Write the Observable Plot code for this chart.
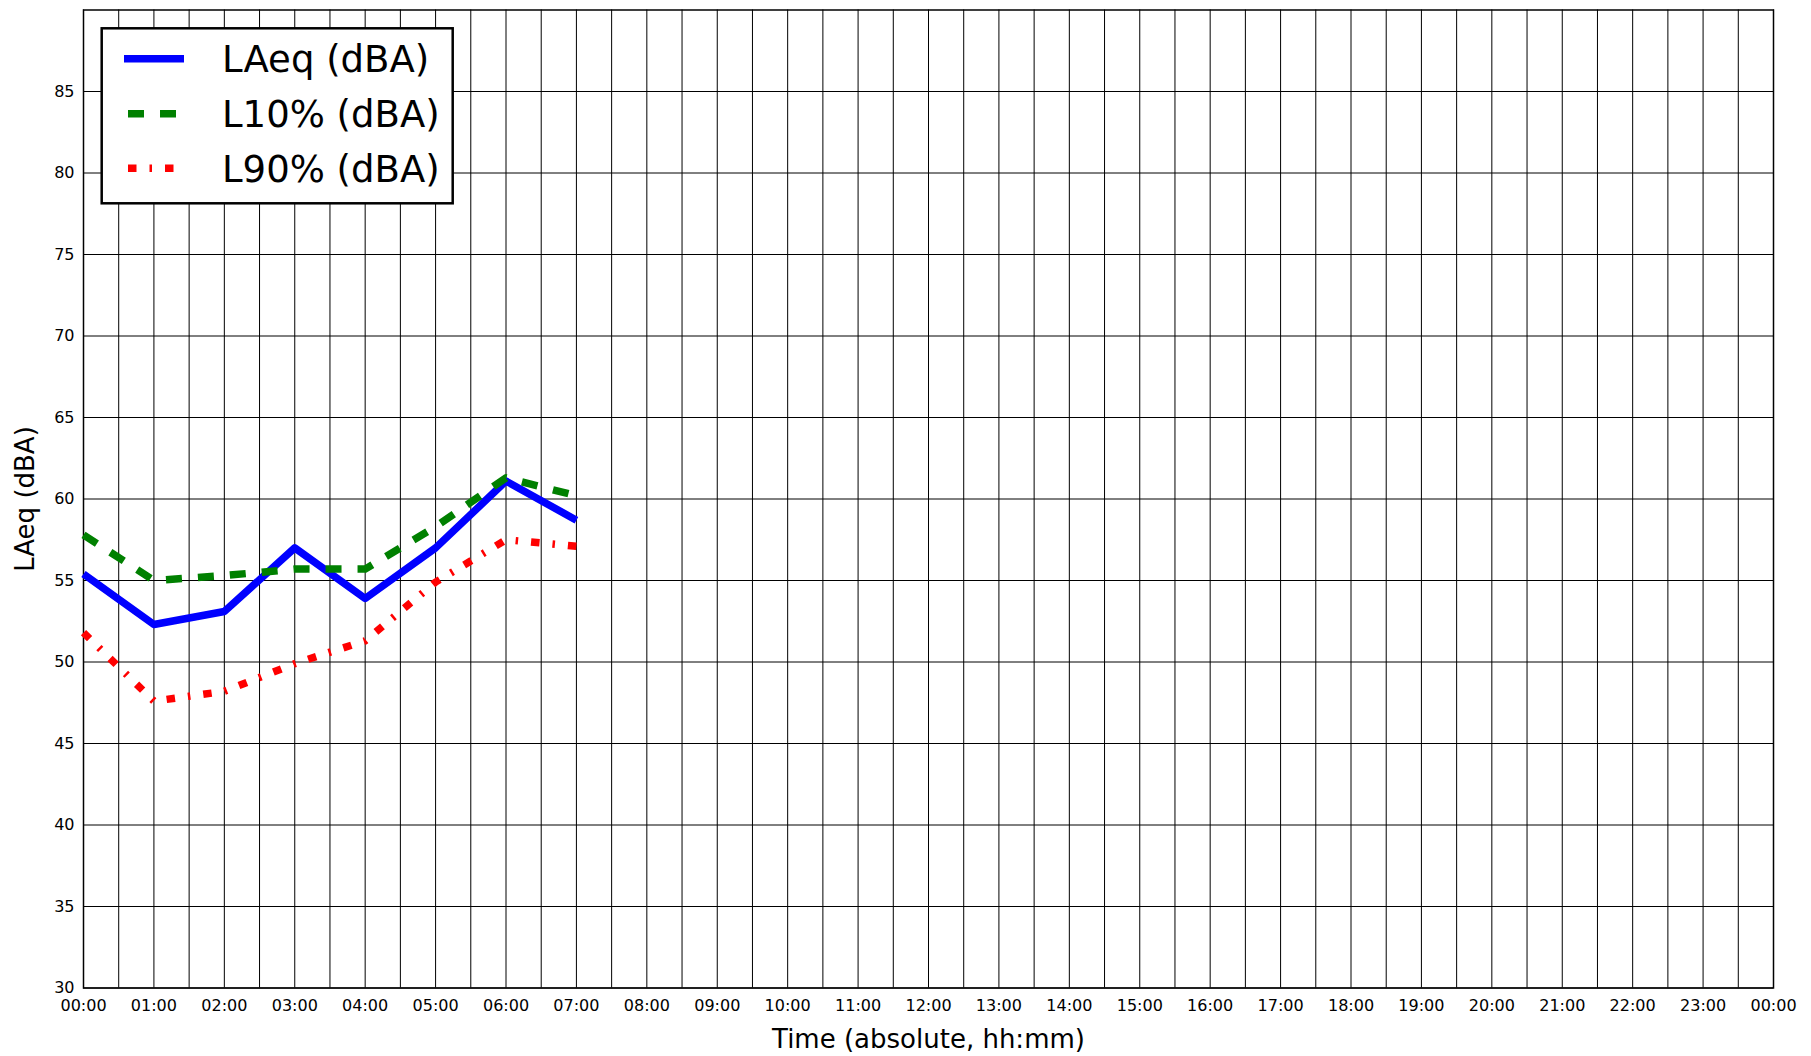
<!DOCTYPE html>
<html>
<head>
<meta charset="utf-8">
<script src="https://cdn.jsdelivr.net/npm/d3@7"></script>
<script src="https://cdn.jsdelivr.net/npm/@observablehq/plot@0.6"></script>
<style>
  html, body { margin: 0; padding: 0; background: white; overflow: hidden; }
  #wrap { position: relative; width: 1811px; height: 1056px; }
  #legend { position: absolute; left: 0; top: 0; pointer-events: none; }
</style>
</head>
<body>
<div id="wrap"></div>
<script>
// ---- data ----
const times = ["00:00", "01:00", "02:00", "03:00", "04:00", "05:00", "06:00", "07:00"];
const laeq  = [55.4, 52.3, 53.1, 57.0, 53.9, 57.0, 61.1, 58.7];
const l10   = [57.8, 55.0, 55.3, 55.7, 55.7, 58.3, 61.3, 60.2];
const l90   = [51.8, 47.6, 48.2, 49.9, 51.3, 54.9, 57.5, 57.1];
const seriesNames = ["LAeq (dBA)", "L10% (dBA)", "L90% (dBA)"];
const xTickLabels = ["00:00","01:00","02:00","03:00","04:00","05:00","06:00","07:00","08:00","09:00",
  "10:00","11:00","12:00","13:00","14:00","15:00","16:00","17:00","18:00","19:00","20:00","21:00",
  "22:00","23:00","00:00"];
const yTicks = [30, 35, 40, 45, 50, 55, 60, 65, 70, 75, 80, 85];

// ---- build table ----
const toHour = s => { const [h, m] = s.split(":").map(Number); return h + m / 60; };
const rows = times.map((t, i) => ({hour: toHour(t), laeq: laeq[i], l10: l10[i], l90: l90[i]}));
const hourTicks = xTickLabels.map((_, i) => i);
const halfHourGrid = d3.range(0, 24.01, 0.5);

const styles = [
  {key: "laeq", color: "#0000ff", dash: null},
  {key: "l10",  color: "#008000", dash: "16,16"},
  {key: "l90",  color: "#ff0000", dash: "8.5,13,2.5,13"}
];

const W = 1811, H = 1056;
const mL = 83, mR = 38, mT = 9.5, mB = 68.5;

const chart = Plot.plot({
  width: W, height: H,
  marginLeft: mL, marginRight: mR, marginTop: mT, marginBottom: mB,
  style: {fontFamily: "DejaVu Sans", fontSize: "16px", color: "black", background: "white"},
  x: {type: "linear", domain: [0, 24]},
  y: {domain: [30, 90]},
  marks: [
    Plot.ruleX(halfHourGrid, {stroke: "black", strokeWidth: 1}),
    Plot.ruleY(yTicks, {stroke: "black", strokeWidth: 1}),
    Plot.frame({stroke: "black", strokeWidth: 1.5}),
    Plot.axisX({ticks: hourTicks, tickFormat: i => xTickLabels[i], tickSize: 0, tickPadding: 12, fontSize: 16, label: null}),
    Plot.axisY({ticks: yTicks, tickSize: 0, tickPadding: 9, fontSize: 16, label: null}),
    ...styles.map(s => Plot.line(rows, {
      x: "hour", y: s.key, stroke: s.color, strokeWidth: 7.5,
      strokeDasharray: s.dash, strokeLinejoin: "round", strokeLinecap: "butt"
    })),
    Plot.text(["Time (absolute, hh:mm)"], {frameAnchor: "bottom", dy: 52, fontSize: 26, lineAnchor: "middle", textAnchor: "middle", fill: "black"}),
    Plot.text(["LAeq (dBA)"], {frameAnchor: "left", dx: -58, rotate: -90, fontSize: 26, lineAnchor: "middle", textAnchor: "middle", fill: "black"})
  ]
});

const wrap = document.getElementById("wrap");
wrap.appendChild(chart);

// ---- legend overlay ----
const leg = d3.select(wrap).append("svg")
  .attr("id", "legend").attr("width", W).attr("height", H);
const box = {x: 101.7, y: 28.3, w: 351, h: 175};
leg.append("rect").attr("x", box.x).attr("y", box.y).attr("width", box.w).attr("height", box.h)
  .attr("fill", "white").attr("stroke", "black").attr("stroke-width", 2.5);
const rowY = [58.7, 113.7, 168.3];
styles.forEach((s, i) => {
  leg.append("line").attr("x1", 124).attr("x2", 184).attr("y1", rowY[i]).attr("y2", rowY[i])
    .attr("stroke", s.color).attr("stroke-width", 7.5)
    .attr("stroke-dasharray", s.dash).attr("stroke-dashoffset", s.key === "laeq" ? 0 : -4);
  leg.append("text").attr("x", 222).attr("y", rowY[i] + 13.5)
    .attr("font-family", "DejaVu Sans").attr("font-size", 37).attr("fill", "black")
    .text(seriesNames[i]);
});
</script>
</body>
</html>
